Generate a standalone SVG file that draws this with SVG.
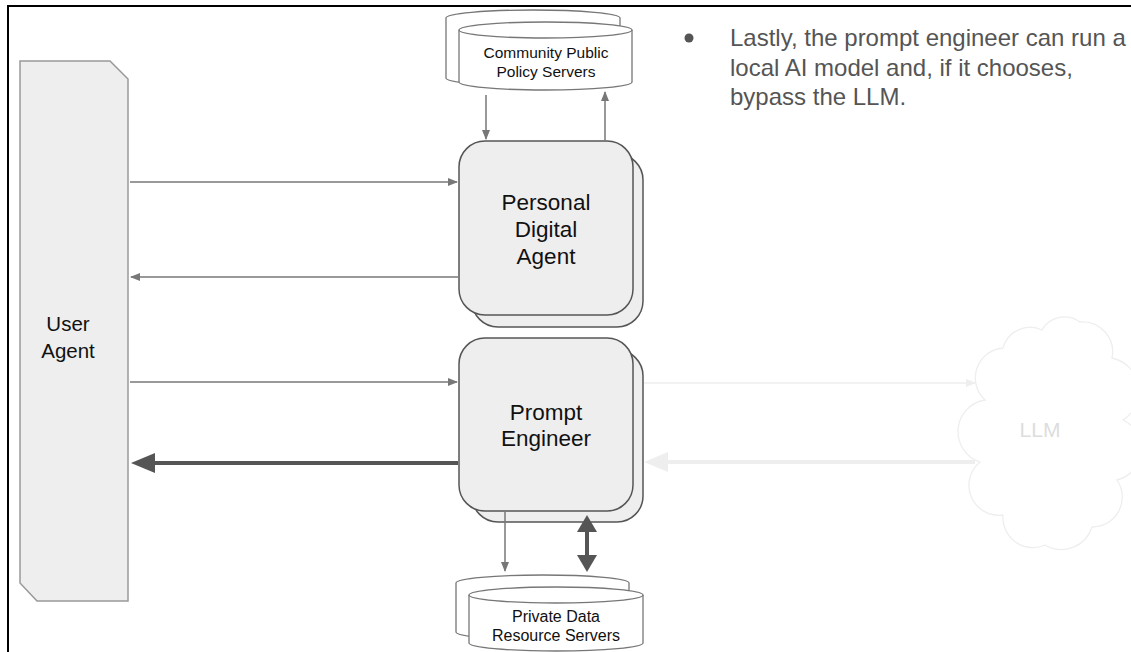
<svg xmlns="http://www.w3.org/2000/svg" width="1131" height="652" viewBox="0 0 1131 652">
<defs>
<style>
.box{fill:#eeeeee;stroke:#555;stroke-width:1.5}
.cyl{fill:#ffffff;stroke:#777;stroke-width:1.3}
.t{font-family:"Liberation Sans",Arial,sans-serif;fill:#111;text-anchor:middle}
.thin{stroke:#777;stroke-width:1.5;fill:none}
</style>
<marker id="ah" markerWidth="10" markerHeight="8" refX="9" refY="4" orient="auto" markerUnits="userSpaceOnUse"><path d="M0,0 L10,4 L0,8 Z" fill="#777"/></marker>
<marker id="ahl" markerWidth="10" markerHeight="8" refX="9" refY="4" orient="auto" markerUnits="userSpaceOnUse"><path d="M0,0 L10,4 L0,8 Z" fill="#eeeeee"/></marker>
</defs>
<rect width="1131" height="652" fill="#fff"/>
<path d="M8,652 L8,6 L1131,6" fill="none" stroke="#000" stroke-width="2"/>

<g id="user-agent">
<path d="M20,61 L110,61 L128,79 L128,601 L37,601 L20,583 Z" fill="#eeeeee" stroke="#999" stroke-width="1.5"/>
<text class="t" x="68" y="331" font-size="20.5">User</text>
<text class="t" x="68" y="358" font-size="20.5">Agent</text>
</g>

<g id="community-servers">
<path d="M446,18 A87,8 0 0 1 620,18 L620,78 A87,8 0 0 1 446,78 Z" class="cyl"/>
<path d="M459,30 A86.5,8 0 0 1 632,30 L632,82 A86.5,8 0 0 1 459,82 Z" class="cyl"/>
<path d="M459,30 A86.5,8 0 0 0 632,30" fill="none" stroke="#777" stroke-width="1.3"/>
<text class="t" x="546" y="58" font-size="15.5">Community Public</text>
<text class="t" x="546" y="77" font-size="15.5">Policy Servers</text>
</g>

<g id="personal-digital-agent">
<rect x="472" y="154" width="171" height="173" rx="26" class="box"/>
<rect x="459" y="141" width="174" height="174" rx="26" class="box"/>
<text class="t" x="546" y="210" font-size="22.5">Personal</text>
<text class="t" x="546" y="237" font-size="22.5">Digital</text>
<text class="t" x="546" y="264" font-size="22.5">Agent</text>
</g>

<g id="prompt-engineer">
<rect x="472" y="350" width="171" height="172" rx="26" class="box"/>
<rect x="459" y="338" width="174" height="173" rx="26" class="box"/>
<text class="t" x="546" y="420" font-size="22.5">Prompt</text>
<text class="t" x="546" y="446" font-size="22.5">Engineer</text>
</g>

<g id="private-servers">
<path d="M456,583 A86.5,8 0 0 1 629,583 L629,632 A86.5,8 0 0 1 456,632 Z" class="cyl"/>
<path d="M469,595 A87,8 0 0 1 643,595 L643,643 A87,8 0 0 1 469,643 Z" class="cyl"/>
<path d="M469,595 A87,8 0 0 0 643,595" fill="none" stroke="#777" stroke-width="1.3"/>
<text class="t" x="556" y="622" font-size="16">Private Data</text>
<text class="t" x="556" y="641" font-size="16">Resource Servers</text>
</g>

<g id="llm">
<path d="M985,400 A30,30 0 0 1 1003,348 A28,28 0 0 1 1042,330 A26,26 0 0 1 1080,322 A30,30 0 0 1 1112,358 A34,34 0 0 1 1123,420 A32,32 0 0 1 1117,480 A30,30 0 0 1 1092,527 A32,32 0 0 1 1045,545 A30,30 0 0 1 1003,515 A30,30 0 0 1 980,462 A32,32 0 0 1 985,400 Z" fill="#fff" stroke="#eeeeee" stroke-width="1.3"/>
<text x="1040" y="437" font-size="21" font-family="'Liberation Sans',Arial,sans-serif" fill="#dddddd" text-anchor="middle">LLM</text>
</g>

<g id="bullet">
<circle cx="689" cy="38" r="4.5" fill="#555"/>
<text font-family="'Liberation Sans',Arial,sans-serif" font-size="24" fill="#555">
<tspan x="730" y="46">Lastly, the prompt engineer can run a</tspan>
<tspan x="730" y="76">local AI model and, if it chooses,</tspan>
<tspan x="730" y="105">bypass the LLM.</tspan>
</text>
</g>

<g id="connectors">
<line x1="486" y1="95" x2="486" y2="139" class="thin" marker-end="url(#ah)"/>
<line x1="605" y1="141" x2="605" y2="92" class="thin" marker-end="url(#ah)"/>
<line x1="130" y1="182" x2="457" y2="182" class="thin" marker-end="url(#ah)"/>
<line x1="458" y1="277" x2="131" y2="277" class="thin" marker-end="url(#ah)"/>
<line x1="130" y1="382" x2="457" y2="382" class="thin" marker-end="url(#ah)"/>
<line x1="458" y1="463" x2="150" y2="463" stroke="#555" stroke-width="4"/>
<path d="M131,463 L155,453 L155,473 Z" fill="#555"/>
<line x1="644" y1="383" x2="975" y2="383" stroke="#eeeeee" stroke-width="1.5" marker-end="url(#ahl)"/>
<line x1="975" y1="462" x2="662" y2="462" stroke="#eeeeee" stroke-width="4"/>
<path d="M644,462 L668,452 L668,472 Z" fill="#eeeeee"/>
<line x1="505" y1="512" x2="505" y2="571" class="thin" marker-end="url(#ah)"/>
<line x1="587" y1="530" x2="587" y2="557" stroke="#555" stroke-width="4"/>
<path d="M587,515 L577,532 L597,532 Z" fill="#555"/>
<path d="M587,572 L577,555 L597,555 Z" fill="#555"/>
</g>
</svg>
